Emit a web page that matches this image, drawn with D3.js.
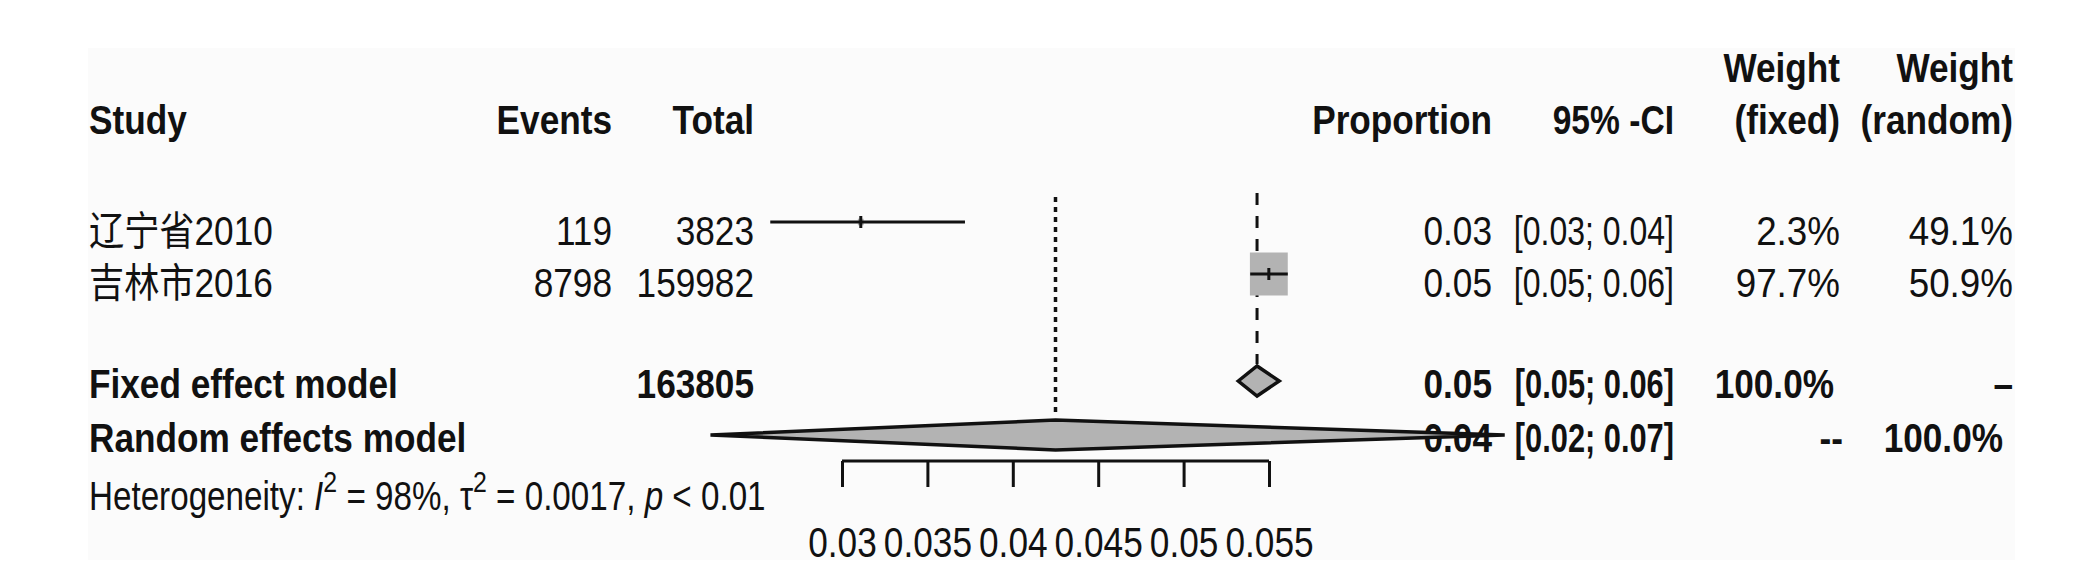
<!DOCTYPE html>
<html>
<head>
<meta charset="utf-8">
<script src="https://cdn.jsdelivr.net/npm/d3@7"></script>
<style>
  body { margin: 0; background: #fff; }
  text { font-family: "Liberation Sans", Arial, "Noto Sans CJK SC", sans-serif; fill: #111; }
</style>
</head>
<body>
<svg width="2086" height="569"></svg>
<script>
// study level data
const studies = ["辽宁省2010", "吉林市2016"];
const events = [119, 8798];
const totals = [3823, 159982];
const props = [0.0311, 0.05499];
const lower = [0.0258, 0.0539];
const upper = [0.0372, 0.0561];
const wFixed = [2.3, 97.7];
const wRandom = [49.1, 50.9];

// pooled models
const models = ["Fixed effect model", "Random effects model"];
const modelTotal = ["163805", ""];
const modelEst = [0.0543, 0.0425];
const modelLower = [0.0532, 0.0223];
const modelUpper = [0.0556, 0.0688];
const modelWFixed = ["100.0%", "--"];
const modelWRandom = ["\u2013", "100.0%"];

const ticks = [0.03, 0.035, 0.04, 0.045, 0.05, 0.055];
const tickLabels = ["0.03", "0.035", "0.04", "0.045", "0.05", "0.055"];

const svg = d3.select("svg");
const squeeze = 0.88;   // the picture is a bit narrow horizontally
const fs = 40;

const x = d3.scaleLinear().domain([0.03, 0.055]).range([842, 1269]);
const f2 = d3.format(".2f");
const f1 = d3.format(".1f");

// column right edges
const col = { study: 89, events: 612, total: 754, prop: 1492, ci: 1674, wf: 1840, wr: 2013 };
const headY = 134, studyY = [245, 297], modelY = [398, 452], hetY = 510;

svg.append("rect")
  .attr("x", 88).attr("y", 48)
  .attr("width", 1927).attr("height", 512)
  .attr("fill", "#fbfbfb");

function txt(s, px, py, anchor, bold, k) {
  return svg.append("text")
    .attr("transform", "translate(" + px + "," + py + ") scale(" + (k || squeeze) + ",1)")
    .attr("text-anchor", anchor)
    .attr("font-weight", bold ? 700 : 400)
    .style("font-size", fs + "px")
    .text(s);
}

// header
txt("Study", col.study, headY, "start", true);
txt("Events", col.events, headY, "end", true);
txt("Total", col.total, headY, "end", true);
txt("Proportion", col.prop, headY, "end", true);
txt("95% -CI", col.ci, headY, "end", true, 0.84);
txt("Weight", col.wf, headY - 52, "end", true);
txt("(fixed)", col.wf, headY, "end", true);
txt("Weight", col.wr, headY - 52, "end", true);
txt("(random)", col.wr, headY, "end", true);

// study rows
studies.forEach((s, i) => {
  const y = studyY[i];
  txt(s, col.study, y, "start", false);
  txt(events[i], col.events, y, "end", false);
  txt(totals[i], col.total, y, "end", false);
  txt(f2(props[i]), col.prop, y, "end", false);
  txt("[" + f2(lower[i]) + "; " + f2(upper[i]) + "]", col.ci, y, "end", false, 0.8);
  txt(f1(wFixed[i]) + "%", col.wf, y, "end", false, 0.92);
  txt(f1(wRandom[i]) + "%", col.wr, y, "end", false, 0.92);
});

// model rows
const modelWfX = [1834, 1843];
const modelWrX = [2013, 2003];
models.forEach((m, i) => {
  const y = modelY[i];
  txt(m, col.study, y, "start", true);
  if (modelTotal[i]) txt(modelTotal[i], col.total, y, "end", true);
  txt(f2(modelEst[i]), col.prop, y, "end", true);
  txt("[" + f2(modelLower[i]) + "; " + f2(modelUpper[i]) + "]", col.ci, y, "end", true, 0.77);
  txt(modelWFixed[i], modelWfX[i], y, "end", true);
  txt(modelWRandom[i], modelWrX[i], y, "end", true);
});

// heterogeneity line
const het = svg.append("text")
  .attr("transform", "translate(" + col.study + "," + hetY + ") scale(0.83,1)")
  .style("font-size", fs + "px");
het.append("tspan").text("Heterogeneity: ");
het.append("tspan").attr("font-style", "italic").text("I");
het.append("tspan").attr("dy", -18).style("font-size", "30px").text("2");
het.append("tspan").attr("dy", 18).text(" = 98%, \u03c4");
het.append("tspan").attr("dy", -18).style("font-size", "30px").text("2");
het.append("tspan").attr("dy", 18).text(" = 0.0017, ");
het.append("tspan").attr("font-style", "italic").text("p");
het.append("tspan").text(" < 0.01");

// reference lines: fixed (dashed) and random (dotted)
svg.append("line")
  .attr("x1", x(modelEst[0])).attr("x2", x(modelEst[0]))
  .attr("y1", 193).attr("y2", 364)
  .attr("stroke", "#111").attr("stroke-width", 3)
  .attr("stroke-dasharray", "12,11");
svg.append("line")
  .attr("x1", x(modelEst[1])).attr("x2", x(modelEst[1]))
  .attr("y1", 197).attr("y2", 414)
  .attr("stroke", "#111").attr("stroke-width", 3.5)
  .attr("stroke-dasharray", "5,5");

// study squares and CIs
const maxSide = 43;
const maxW = d3.max(wFixed);
studies.forEach((s, i) => {
  const cy = studyY[i] - 23;
  const side = maxSide * Math.sqrt(wFixed[i] / maxW);
  svg.append("rect")
    .attr("x", x(props[i]) - side * squeeze / 2)
    .attr("y", cy - side / 2)
    .attr("width", side * squeeze)
    .attr("height", side)
    .attr("fill", "#b3b3b3");
  svg.append("line")
    .attr("x1", x(lower[i])).attr("x2", x(upper[i]))
    .attr("y1", cy).attr("y2", cy)
    .attr("stroke", "#111").attr("stroke-width", 3);
  svg.append("line")
    .attr("x1", x(props[i])).attr("x2", x(props[i]))
    .attr("y1", cy - 6).attr("y2", cy + 6)
    .attr("stroke", "#111").attr("stroke-width", 3);
});

// diamonds
const dh = 30;
models.forEach((m, i) => {
  const cy = modelY[i] - 17;
  const pts = [
    [x(modelLower[i]), cy],
    [x(modelEst[i]), cy - dh / 2],
    [x(modelUpper[i]), cy],
    [x(modelEst[i]), cy + dh / 2]
  ];
  svg.append("polygon")
    .attr("points", pts.map(p => p.join(",")).join(" "))
    .attr("fill", "#b3b3b3")
    .attr("stroke", "#111")
    .attr("stroke-width", 3.5)
    .attr("stroke-linejoin", "miter");
});

// x axis
const axis = d3.axisBottom(x)
  .tickValues(ticks)
  .tickFormat((d, i) => tickLabels[i])
  .tickSize(26);
const gAxis = svg.append("g")
  .attr("transform", "translate(0,461)")
  .call(axis);
gAxis.select(".domain").attr("stroke", "#111").attr("stroke-width", 3)
  .attr("d", "M" + x(0.03) + ",0H" + x(0.055));
gAxis.selectAll(".tick line").attr("stroke", "#111").attr("stroke-width", 3)
  .attr("y1", 0);
gAxis.selectAll(".tick text")
  .attr("fill", "#111")
  .style("font-size", "42px")
  .style("font-family", "'Liberation Sans', Arial, sans-serif")
  .attr("dy", 0)
  .attr("y", 0)
  .attr("transform", "translate(0,96) scale(0.84,1)");
</script>
</body>
</html>
